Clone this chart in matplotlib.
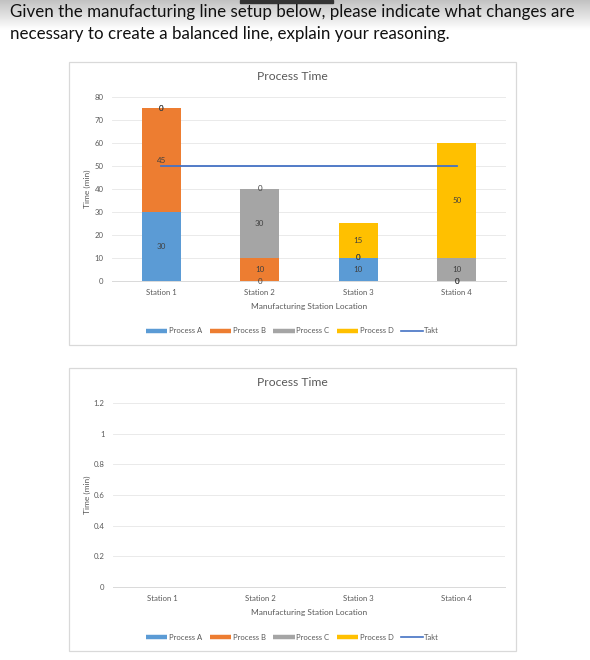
import numpy as np
import matplotlib
matplotlib.use('Agg')
import matplotlib.pyplot as plt
from matplotlib.lines import Line2D
from matplotlib.patches import Rectangle

plt.rcParams['font.family'] = ['Lato', 'DejaVu Sans']

stations = ['Station 1', 'Station 2', 'Station 3', 'Station 4']
processes = ['Process A', 'Process B', 'Process C', 'Process D']
proc_a = [30, 0, 10, 0]
proc_b = [45, 10, 0, 0]
proc_c = [0, 30, 0, 10]
proc_d = [0, 0, 15, 50]
takt = [50, 50, 50, 50]
colors = ['#5B9BD5', '#ED7D31', '#A5A5A5', '#FFC000']
takt_color = '#4472C4'

header_lines = ["Given the manufacturing line setup below, please indicate what changes are",
                "necessary to create a balanced line, explain your reasoning."]

W, H = 590, 660
fig = plt.figure(figsize=(W / 100, H / 100), dpi=100)


def box(x0, y0, x1, y1):
    # pixel box (top-left origin) -> figure rect
    return [x0 / W, 1 - y1 / H, (x1 - x0) / W, (y1 - y0) / H]


# header gradient and text
gax = fig.add_axes(box(0, 0, W, 30), zorder=-5)
grad = np.linspace(0.76, 1.0, 64).reshape(-1, 1)
gax.imshow(grad, cmap='gray', vmin=0, vmax=1, aspect='auto', extent=[0, 1, 1, 0])
gax.set_axis_off()
fig.patches.append(Rectangle((240 / W, 1 - 3 / H), 93 / W, 3 / H,
                             transform=fig.transFigure, color='#333333', zorder=2))
for line, yp in zip(header_lines, [12, 34]):
    fig.text(10 / W, 1 - yp / H, line, fontsize=12.2, color='#111111',
             va='center', ha='left')


def draw_chart(panel, plot, ymax, yticks, ylabels, series):
    fig.patches.append(Rectangle((panel[0] / W, 1 - panel[3] / H),
                                 (panel[2] - panel[0]) / W, (panel[3] - panel[1]) / H,
                                 transform=fig.transFigure, facecolor='white',
                                 edgecolor='#d9d9d9', lw=0.9, zorder=-1))
    ax = fig.add_axes(box(*plot))
    ax.patch.set_alpha(0)
    x = np.arange(len(stations))
    if series is not None:
        bottom = np.zeros(len(stations))
        for vals, col in zip(series, colors):
            vals = np.array(vals, dtype=float)
            ax.bar(x, vals, 0.4, bottom=bottom, color=col, zorder=2)
            for xi, b, v in zip(x, bottom, vals):
                ax.text(xi, b + v / 2, f'{v:g}', ha='center', va='center',
                        fontsize=5.8, color='#404040', zorder=4)
            bottom += vals
        ax.plot(x, takt, color=takt_color, lw=1.3, zorder=3)
    ax.set_xlim(-0.5, len(stations) - 0.5)
    ax.set_ylim(0, ymax)
    ax.set_xticks(x)
    ax.set_xticklabels(stations)
    ax.set_yticks(yticks)
    ax.set_yticklabels(ylabels)
    ax.tick_params(length=0, labelsize=5.6, labelcolor='#595959')
    ax.tick_params(axis='x', pad=6)
    ax.tick_params(axis='y', pad=6)
    for s in ['top', 'right', 'left']:
        ax.spines[s].set_visible(False)
    ax.spines['bottom'].set_color('#d9d9d9')
    ax.spines['bottom'].set_linewidth(0.7)
    ax.grid(axis='y', color='#e6e6e6', lw=0.6, zorder=0)
    ax.set_axisbelow(True)

    cx = (panel[0] + panel[2]) / 2 / W
    fig.text(cx, 1 - (panel[1] + 15) / H, 'Process Time', ha='center', va='center',
             fontsize=8.7, color='#595959')
    fig.text(cx + 17 / W, 1 - (plot[3] + 26) / H, 'Manufacturing Station Location',
             ha='center', va='center', fontsize=6.0, color='#595959')
    fig.text(87 / W, 1 - (plot[1] + plot[3]) / 2 / H, 'Time (min)', rotation=90,
             ha='center', va='center', fontsize=6.0, color='#595959')

    handles = [Line2D([], [], color=c, lw=3.2, solid_capstyle='butt') for c in colors]
    handles.append(Line2D([], [], color=takt_color, lw=1.2))
    fig.legend(handles, processes + ['Takt'], loc='center', ncol=5, frameon=False,
               bbox_to_anchor=(cx, 1 - (plot[3] + 50) / H), fontsize=5.5,
               handlelength=2.8, handletextpad=0.2, columnspacing=1.0,
               labelcolor='#595959')


draw_chart((69, 62, 516, 345), (112, 96.7, 506, 281), 80,
           range(0, 81, 10), [str(v) for v in range(0, 81, 10)],
           [proc_a, proc_b, proc_c, proc_d])
draw_chart((69, 368, 516, 651), (113, 403, 505, 587), 1.2,
           [0, 0.2, 0.4, 0.6, 0.8, 1.0, 1.2], ['0', '0.2', '0.4', '0.6', '0.8', '1', '1.2'],
           None)

fig.savefig('out.png', dpi=100)
